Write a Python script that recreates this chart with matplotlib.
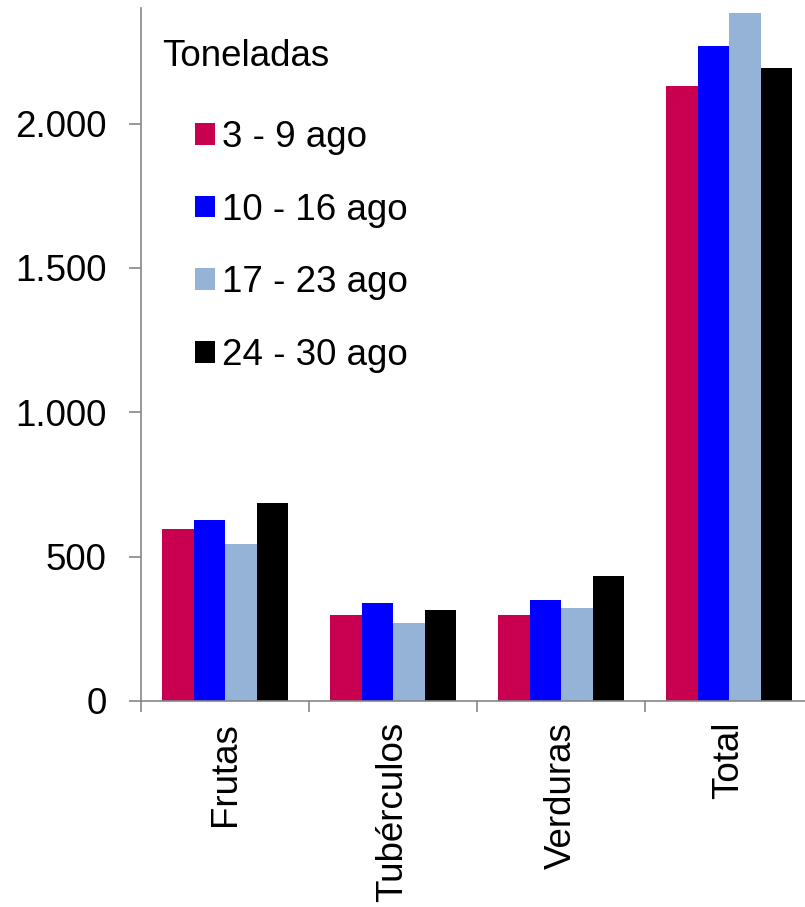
import matplotlib
matplotlib.use("Agg")
import matplotlib.pyplot as plt
import numpy as np
from matplotlib.ticker import FuncFormatter

plt.rcParams['font.family'] = ['Liberation Sans', 'DejaVu Sans']

categories = ["Frutas", "Tubérculos", "Verduras", "Total"]
series_labels = ["3 - 9 ago", "10 - 16 ago", "17 - 23 ago", "24 - 30 ago"]
s_3_9 = [595, 297, 297, 2131]
s_10_16 = [627, 339, 350, 2268]
s_17_23 = [544, 271, 323, 2381]
s_24_30 = [685, 315, 433, 2191]
series = [s_3_9, s_10_16, s_17_23, s_24_30]
colors = ["#C8004F", "#0000FF", "#95B3D7", "#000000"]
yticks = [0, 500, 1000, 1500, 2000]

W, H = 805, 907
fig = plt.figure(figsize=(W / 100, H / 100), dpi=100)
left_px, right_px, bottom_px, top_px = 141, 813, 701, 8
ax = fig.add_axes([left_px / W, 1 - bottom_px / H, (right_px - left_px) / W, (bottom_px - top_px) / H])

x = np.arange(len(categories))
bw = 0.1875
for i, (vals, lab, col) in enumerate(zip(series, series_labels, colors)):
    ax.bar(x + (i - 1.5) * bw, vals, width=bw, color=col, label=lab, linewidth=0)

ax.set_xlim(-0.5, 3.5)
ax.set_ylim(0, 2400)

fs = 26.5
gray = "#868686"
for s in ["top", "right"]:
    ax.spines[s].set_visible(False)
for s in ["left", "bottom"]:
    ax.spines[s].set_color(gray)
    ax.spines[s].set_linewidth(1.2)

ax.set_yticks(yticks)
ax.yaxis.set_major_formatter(FuncFormatter(lambda v, p: f"{int(v):,}".replace(",", ".")))
ax.tick_params(axis="y", direction="out", length=8.6, width=1.2, color=gray, pad=16, labelsize=fs)

ax.set_xticks(x)
ax.set_xticklabels(categories, rotation=90, fontsize=fs)
ax.tick_params(axis="x", which="major", length=0, pad=15)
ax.set_xticks(np.arange(-0.5, 4.0, 1.0), minor=True)
ax.tick_params(axis="x", which="minor", direction="out", length=8, width=1.2, color=gray)

fig.text(162 / W, 1 - 57 / H, "Toneladas", fontsize=fs, ha="left", va="center")
leg = ax.legend(loc="upper left", bbox_to_anchor=(195 / W, 1 - 120 / H), bbox_transform=fig.transFigure,
                frameon=False, fontsize=fs, borderpad=0, borderaxespad=0,
                handlelength=0.54, handleheight=0.54, handletextpad=0.2, labelspacing=1.02)

fig.savefig("out.png", dpi=100)
